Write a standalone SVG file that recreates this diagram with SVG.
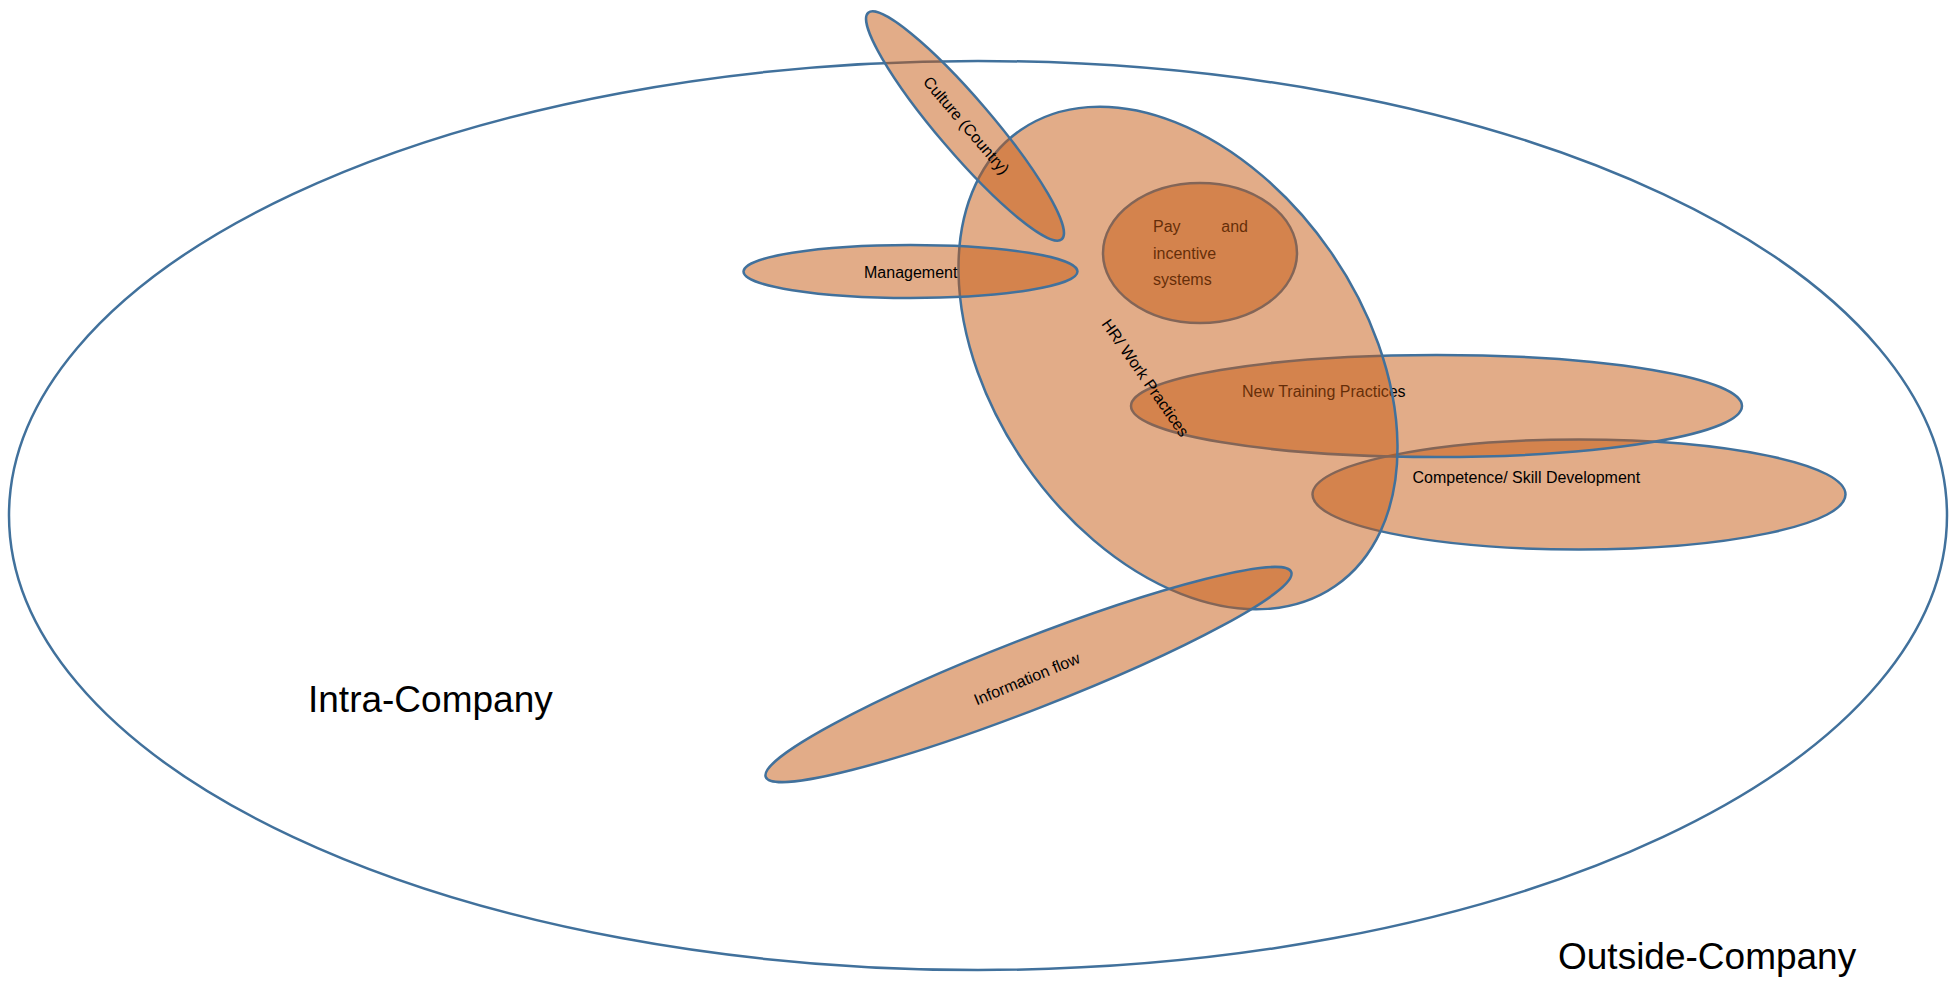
<svg xmlns="http://www.w3.org/2000/svg" width="1955" height="981" viewBox="0 0 1955 981">
<style>
.shape{fill:#C55A11;fill-opacity:0.5;stroke:#41719C;stroke-width:2.5}
.outer{fill:none;stroke:#41719C;stroke-width:2.5}
.lbl{font-family:"Liberation Sans",Arial,sans-serif;font-size:16px;fill:#000}
.big{font-family:"Liberation Sans",Arial,sans-serif;font-size:37px;fill:#000}
</style>
<rect width="1955" height="981" fill="#fff"/>
<g id="outside-company">
<ellipse class="outer" cx="978" cy="515.5" rx="969" ry="454.5"/>
<text class="big" x="1558" y="969">Outside-Company</text>
</g>
<g id="intra-company">
<text class="big" x="308" y="712">Intra-Company</text>
</g>
<g id="competence">
<ellipse class="shape" cx="1579" cy="494.5" rx="266.5" ry="55"/>
<text class="lbl" x="1412.5" y="482.5">Competence/ Skill Development</text>
</g>
<g id="new-training">
<ellipse class="shape" cx="1436.5" cy="406" rx="305.5" ry="51"/>
<text class="lbl" x="1242" y="397">New Training Practices</text>
</g>
<g id="pay">
<ellipse class="shape" cx="1200" cy="253" rx="97" ry="70"/>
<text class="lbl" x="1153" y="232">Pay</text>
<text class="lbl" x="1248" y="232" text-anchor="end">and</text>
<text class="lbl" x="1153" y="258.5">incentive</text>
<text class="lbl" x="1153" y="285">systems</text>
</g>
<g id="hr">
<ellipse class="shape" cx="1178" cy="358" rx="277" ry="186" transform="rotate(55.4 1178 358)"/>
<text class="lbl" x="1141" y="381" text-anchor="middle" transform="rotate(55 1141 381)">HR/ Work Practices</text>
</g>
<g id="management">
<ellipse class="shape" cx="910.5" cy="271.5" rx="167" ry="26.5"/>
<text class="lbl" x="864" y="278">Management</text>
</g>
<g id="information-flow">
<ellipse class="shape" cx="1028.5" cy="674.5" rx="282" ry="35" transform="rotate(-21.3 1028.5 674.5)"/>
<text class="lbl" x="1029" y="684" text-anchor="middle" transform="rotate(-22.5 1029 684)">Information flow</text>
</g>
<g id="culture">
<ellipse class="shape" cx="965" cy="126" rx="149" ry="27" transform="rotate(49.5 965 126)"/>
<text class="lbl" x="962" y="129" text-anchor="middle" transform="rotate(49.5 962 129)">Culture (Country)</text>
</g>
<g id="connectors"/>
</svg>
